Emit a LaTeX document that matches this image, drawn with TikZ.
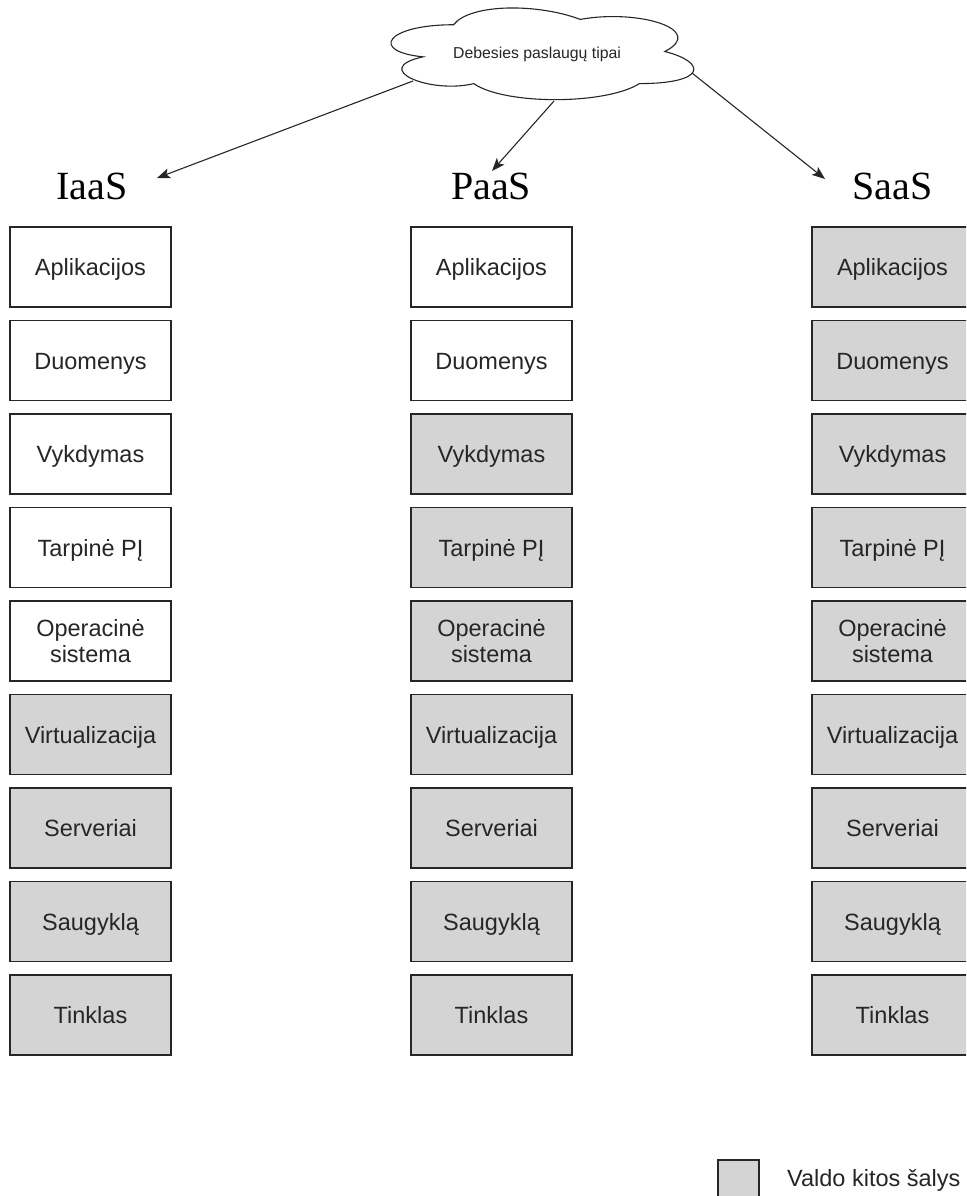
\documentclass[tikz,border=0pt]{standalone}
\usepackage{fontspec}
\setmainfont{Liberation Serif}
\newfontfamily\boxfont{Liberation Sans}
\usetikzlibrary{arrows.meta}

\definecolor{cellgray}{HTML}{D4D4D4}
\definecolor{inkgray}{HTML}{262626}

\tikzset{
  cell/.style={draw=black!85, line width=1.2pt, minimum width=161pt, minimum height=80pt,
    inner sep=0pt, align=center, text=inkgray, font=\boxfont\fontsize{23.5}{26.5}\selectfont},
  oneline/.style={text height=17pt, text depth=0pt},
  own/.style={cell, oneline, fill=white},
  prov/.style={cell, oneline, fill=cellgray},
  owntwo/.style={cell, fill=white},
  provtwo/.style={cell, fill=cellgray},
  header/.style={inner sep=0pt, anchor=base, text=black, font=\fontsize{40}{44}\selectfont},
  link/.style={draw=black!85, line width=1.1pt, -{Stealth[length=13pt, width=10pt, inset=3pt]}},
}

\begin{document}
\begin{tikzpicture}[x=1pt, y=1pt]
\clip (0,0) rectangle (966,-1196);
\fill[white] (0,0) rectangle (966,-1196);

% cloud outline (six bulges) in its own unit box
\begin{scope}[shift={(369,2)}, xscale=338, yscale=-107]
  \draw[black!85, line width=1.1pt, fill=white]
    (0.25,0.25) .. controls (0.05,0.25) and (0,0.5) .. (0.16,0.55)
    .. controls (0,0.66) and (0.18,0.9) .. (0.31,0.8)
    .. controls (0.4,1) and (0.7,1) .. (0.8,0.8)
    .. controls (1,0.8) and (1,0.6) .. (0.875,0.5)
    .. controls (1,0.3) and (0.8,0.1) .. (0.625,0.2)
    .. controls (0.5,0.05) and (0.3,0.05) .. (0.25,0.25) -- cycle;
\end{scope}
\node[text=inkgray, inner sep=0pt, text height=14pt, text depth=0pt,
      font=\boxfont\fontsize{15.8}{18}\selectfont] (cloud) at (537,-51.5) {Debesies paslaugų tipai};

% column headings
\node[header] (iaas) at (92,-199) {IaaS};
\node[header] (paas) at (491,-199) {PaaS};
\node[header] (saas) at (892.5,-199) {SaaS};

% arrow ends
\coordinate (c1) at (413,-81);
\coordinate (c2) at (554,-101);
\coordinate (c3) at (692,-73);
\coordinate (t1) at (157,-178);
\coordinate (t2) at (492,-171);
\coordinate (t3) at (825,-179);
\draw[link] (c1) -- (t1);
\draw[link] (c2) -- (t2);
\draw[link] (c3) -- (t3);

% IaaS stack
\node[own]     (i1) at (90.5,-267)   {Aplikacijos};
\node[own]     (i2) at (90.5,-360.5) {Duomenys};
\node[own]     (i3) at (90.5,-454)   {Vykdymas};
\node[own]     (i4) at (90.5,-547.5) {Tarpinė PĮ};
\node[owntwo]  (i5) at (90.5,-641)   {Operacinė\\sistema};
\node[prov]    (i6) at (90.5,-734.5) {Virtualizacija};
\node[prov]    (i7) at (90.5,-828)   {Serveriai};
\node[prov]    (i8) at (90.5,-921.5) {Saugyklą};
\node[prov]    (i9) at (90.5,-1015)  {Tinklas};

% PaaS stack
\node[own]     (p1) at (491.5,-267)   {Aplikacijos};
\node[own]     (p2) at (491.5,-360.5) {Duomenys};
\node[prov]    (p3) at (491.5,-454)   {Vykdymas};
\node[prov]    (p4) at (491.5,-547.5) {Tarpinė PĮ};
\node[provtwo] (p5) at (491.5,-641)   {Operacinė\\sistema};
\node[prov]    (p6) at (491.5,-734.5) {Virtualizacija};
\node[prov]    (p7) at (491.5,-828)   {Serveriai};
\node[prov]    (p8) at (491.5,-921.5) {Saugyklą};
\node[prov]    (p9) at (491.5,-1015)  {Tinklas};

% SaaS stack
\node[prov]    (s1) at (892.5,-267)   {Aplikacijos};
\node[prov]    (s2) at (892.5,-360.5) {Duomenys};
\node[prov]    (s3) at (892.5,-454)   {Vykdymas};
\node[prov]    (s4) at (892.5,-547.5) {Tarpinė PĮ};
\node[provtwo] (s5) at (892.5,-641)   {Operacinė\\sistema};
\node[prov]    (s6) at (892.5,-734.5) {Virtualizacija};
\node[prov]    (s7) at (892.5,-828)   {Serveriai};
\node[prov]    (s8) at (892.5,-921.5) {Saugyklą};
\node[prov]    (s9) at (892.5,-1015)  {Tinklas};

% legend
\node[provtwo, minimum width=41pt, minimum height=41pt] (key) at (738.5,-1180.5) {};
\node[anchor=west, inner sep=0pt, text=inkgray, font=\boxfont\fontsize{23.5}{27}\selectfont] (keytext) at (787,-1180.5) {Valdo kitos šalys};
\end{tikzpicture}
\end{document}
